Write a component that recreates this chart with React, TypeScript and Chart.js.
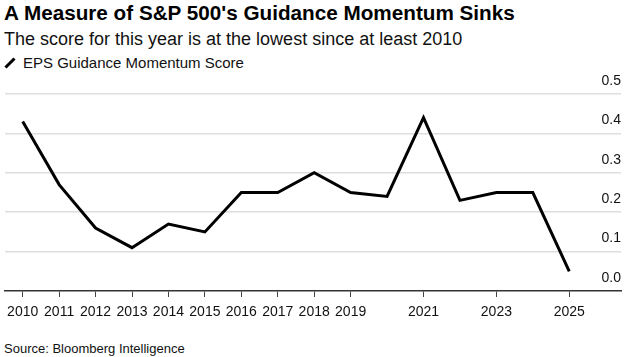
import React, { useEffect, useRef } from "react";
import { Chart, registerables } from "chart.js";

Chart.register(...registerables);

const years = [2010, 2011, 2012, 2013, 2014, 2015, 2016, 2017, 2018, 2019, 2020, 2021, 2022, 2023, 2024, 2025];
const scores = [0.43, 0.27, 0.16, 0.11, 0.17, 0.15, 0.25, 0.25, 0.3, 0.25, 0.24, 0.44, 0.23, 0.25, 0.25, 0.05];
const xTickYears = [2010, 2011, 2012, 2013, 2014, 2015, 2016, 2017, 2018, 2019, 2021, 2023, 2025];
const yTicks = [0, 0.1, 0.2, 0.3, 0.4, 0.5];

const TITLE = "A Measure of S&P 500's Guidance Momentum Sinks";
const SUBTITLE = "The score for this year is at the lowest since at least 2010";
const SERIES_NAME = "EPS Guidance Momentum Score";
const SOURCE = "Source: Bloomberg Intelligence";

const FONT = "'Liberation Sans', Arial, Helvetica, sans-serif";

export default function App() {
  const canvasRef = useRef<HTMLCanvasElement | null>(null);

  useEffect(() => {
    const canvas = canvasRef.current;
    if (!canvas) return;
    const chart = new Chart(canvas, {
      type: "line",
      data: {
        datasets: [
          {
            label: SERIES_NAME,
            data: years.map((y, i) => ({ x: y, y: scores[i] })),
            borderColor: "#000000",
            borderWidth: 3,
            pointRadius: 0,
            tension: 0,
            fill: false,
          },
        ],
      },
      options: {
        animation: false,
        responsive: false,
        maintainAspectRatio: false,
        devicePixelRatio: 1,
        layout: { padding: { left: 4, right: 22, top: 24, bottom: 0 } },
        plugins: {
          legend: { display: false },
          title: { display: false },
          tooltip: { enabled: false },
        },
        scales: {
          x: {
            type: "linear",
            min: 2009.515,
            max: 2026.42,
            afterBuildTicks: (axis: any) => {
              axis.ticks = xTickYears.map((v) => ({ value: v }));
            },
            afterFit: (axis: any) => {
              axis.height = 40;
            },
            grid: {
              drawOnChartArea: false,
              drawTicks: true,
              tickLength: 6,
              color: "#444444",
              lineWidth: 1,
            },
            border: { display: true, color: "#333333", width: 1.5 },
            ticks: {
              autoSkip: false,
              maxRotation: 0,
              padding: 7,
              color: "#111111",
              font: { family: FONT, size: 14 },
              callback: (v: any) => String(v),
            },
          },
          y: {
            position: "right",
            min: 0,
            max: 0.5,
            afterBuildTicks: (axis: any) => {
              axis.ticks = yTicks.map((v) => ({ value: v }));
            },
            afterFit: (axis: any) => {
              axis.width = 0;
            },
            grid: {
              drawTicks: false,
              color: (ctx: any) => (ctx.tick && ctx.tick.value === 0 ? "rgba(0,0,0,0)" : "#dedede"),
              lineWidth: 1.5,
            },
            border: { display: false },
            ticks: {
              mirror: true,
              padding: 0,
              labelOffset: -13,
              color: "#111111",
              font: { family: FONT, size: 14 },
              callback: (v: any) => Number(v).toFixed(1),
            },
          },
        },
      },
    });
    return () => chart.destroy();
  }, []);

  return (
    <div
      style={{
        position: "fixed",
        left: 0,
        top: 0,
        width: 643,
        height: 357,
        background: "#ffffff",
        fontFamily: FONT,
        color: "#000",
        overflow: "hidden",
      }}
    >
      <div
        style={{
          position: "absolute",
          left: 4,
          top: 1,
          fontSize: 20.7,
          lineHeight: "24px",
          fontWeight: 700,
          whiteSpace: "nowrap",
        }}
      >
        {TITLE}
      </div>
      <div
        style={{
          position: "absolute",
          left: 4,
          top: 29,
          fontSize: 18,
          lineHeight: "21px",
          whiteSpace: "nowrap",
          color: "#111",
        }}
      >
        {SUBTITLE}
      </div>
      <div
        style={{
          position: "absolute",
          left: 4,
          top: 54,
          height: 18,
          display: "flex",
          alignItems: "center",
          whiteSpace: "nowrap",
        }}
      >
        <svg width="14" height="12" style={{ marginRight: 5 }}>
          <line x1="1.5" y1="10.5" x2="10.5" y2="1.5" stroke="#000" strokeWidth="3" strokeLinecap="butt" />
        </svg>
        <span style={{ fontSize: 15, lineHeight: "18px", color: "#111" }}>{SERIES_NAME}</span>
      </div>
      <canvas
        ref={canvasRef}
        width={643}
        height={261}
        style={{ position: "absolute", left: 0, top: 70, width: 643, height: 261 }}
      />
      <div
        style={{
          position: "absolute",
          left: 4,
          top: 340,
          fontSize: 13,
          lineHeight: "18px",
          whiteSpace: "nowrap",
          color: "#111",
        }}
      >
        {SOURCE}
      </div>
    </div>
  );
}
